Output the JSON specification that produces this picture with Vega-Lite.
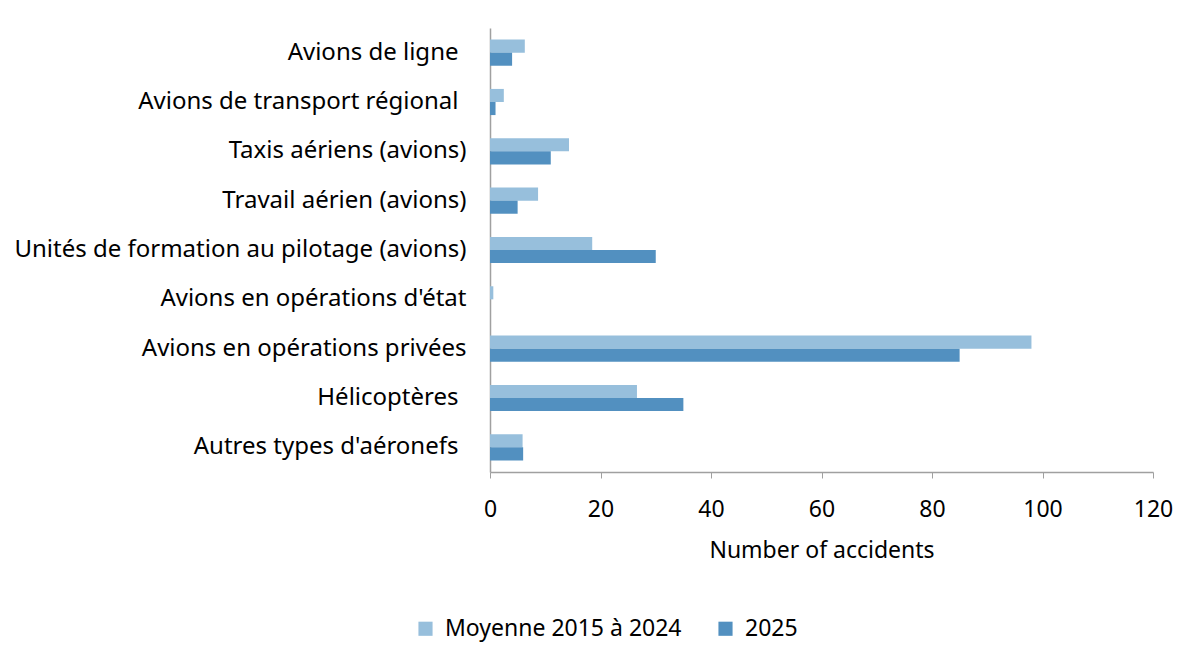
{
  "$schema": "https://vega.github.io/schema/vega-lite/v6.json",
  "description": "Accidents by aircraft category: 2015-2024 average vs 2025",
  "autosize": {"type": "none"},
  "padding": {"left": 490, "top": 28, "right": 47, "bottom": 196},
  "width": 663,
  "height": 444,
  "background": "white",
  "data": {
    "values": [
      {"categorie": "Avions de ligne", "serie": "Moyenne 2015 à 2024", "accidents": 6.3},
      {"categorie": "Avions de ligne", "serie": "2025", "accidents": 4},
      {"categorie": "Avions de transport régional", "serie": "Moyenne 2015 à 2024", "accidents": 2.5},
      {"categorie": "Avions de transport régional", "serie": "2025", "accidents": 1},
      {"categorie": "Taxis aériens (avions)", "serie": "Moyenne 2015 à 2024", "accidents": 14.3},
      {"categorie": "Taxis aériens (avions)", "serie": "2025", "accidents": 11},
      {"categorie": "Travail aérien (avions)", "serie": "Moyenne 2015 à 2024", "accidents": 8.7},
      {"categorie": "Travail aérien (avions)", "serie": "2025", "accidents": 5},
      {"categorie": "Unités de formation au pilotage (avions)", "serie": "Moyenne 2015 à 2024", "accidents": 18.5},
      {"categorie": "Unités de formation au pilotage (avions)", "serie": "2025", "accidents": 30},
      {"categorie": "Avions en opérations d'état", "serie": "Moyenne 2015 à 2024", "accidents": 0.6},
      {"categorie": "Avions en opérations d'état", "serie": "2025", "accidents": 0},
      {"categorie": "Avions en opérations privées", "serie": "Moyenne 2015 à 2024", "accidents": 98},
      {"categorie": "Avions en opérations privées", "serie": "2025", "accidents": 85},
      {"categorie": "Hélicoptères", "serie": "Moyenne 2015 à 2024", "accidents": 26.6},
      {"categorie": "Hélicoptères", "serie": "2025", "accidents": 35},
      {"categorie": "Autres types d'aéronefs", "serie": "Moyenne 2015 à 2024", "accidents": 5.9},
      {"categorie": "Autres types d'aéronefs", "serie": "2025", "accidents": 6}
    ]
  },
  "mark": {"type": "bar"},
  "encoding": {
    "y": {
      "field": "categorie",
      "type": "nominal",
      "sort": null,
      "title": null,
      "scale": {"paddingInner": 0.47, "paddingOuter": 0.235},
      "axis": {
        "ticks": false,
        "labelPadding": {
          "condition": {
            "test": "indexof(['Avions de ligne', 'Avions de transport régional', 'Hélicoptères', \"Autres types d'aéronefs\"], datum.value) >= 0",
            "value": 32
          },
          "value": 24
        },
        "labelFontSize": 24,
        "labelLimit": 480
      }
    },
    "yOffset": {
      "field": "serie",
      "type": "nominal",
      "sort": ["Moyenne 2015 à 2024", "2025"]
    },
    "x": {
      "field": "accidents",
      "type": "quantitative",
      "title": "Number of accidents",
      "scale": {"domain": [0, 120], "nice": false},
      "axis": {
        "values": [0, 20, 40, 60, 80, 100, 120],
        "grid": false,
        "tickSize": 6,
        "labelFlush": false,
        "labelPadding": 20,
        "labelFontSize": 23,
        "titleFontSize": 23,
        "titleFontWeight": "normal",
        "titlePadding": 18
      }
    },
    "color": {
      "field": "serie",
      "type": "nominal",
      "title": null,
      "sort": ["Moyenne 2015 à 2024", "2025"],
      "scale": {"domain": ["Moyenne 2015 à 2024", "2025"], "range": ["#97bfdc", "#5290c0"]},
      "legend": {
        "orient": "none",
        "direction": "horizontal",
        "legendX": -76,
        "legendY": 589,
        "symbolType": "square",
        "symbolSize": 200,
        "symbolStrokeWidth": 0,
        "labelFontSize": 23,
        "labelLimit": 400,
        "labelOffset": 8,
        "columnPadding": 32
      }
    }
  },
  "config": {
    "font": "Noto Sans",
    "view": {"stroke": null},
    "axis": {
      "domainColor": "#a0a0a0",
      "tickColor": "#a0a0a0",
      "domainWidth": 1.5,
      "labelColor": "#000000",
      "titleColor": "#000000",
      "labelFont": "Noto Sans",
      "titleFont": "Noto Sans"
    },
    "legend": {"labelColor": "#000000", "labelFont": "Noto Sans"}
  }
}
